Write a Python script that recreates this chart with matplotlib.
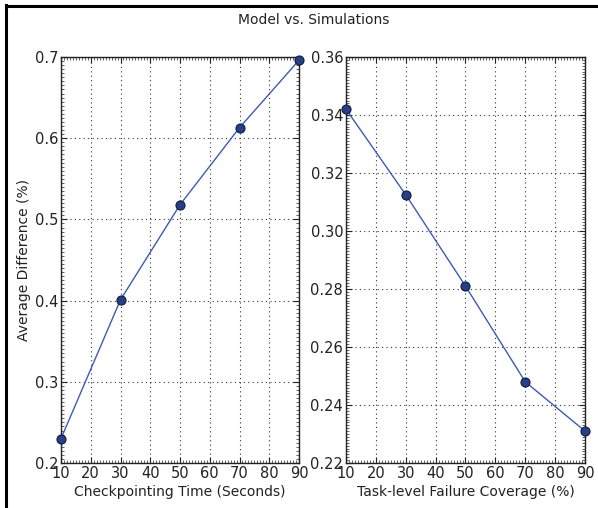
import numpy as np
import matplotlib
matplotlib.use("Agg")
import matplotlib.pyplot as plt
from matplotlib.ticker import MultipleLocator
from matplotlib.lines import Line2D

plt.rcParams['font.family'] = ['DejaVu Sans']

# data
ckpt_time = [10, 30, 50, 70, 90]
ckpt_diff = [0.230, 0.401, 0.518, 0.613, 0.696]

coverage = [10, 30, 50, 70, 90]
coverage_diff = [0.342, 0.3125, 0.281, 0.248, 0.231]

line_col = '#3a5cb4'
marker_col = '#25408a'


def style_ax(ax, ylo, yhi, ystep, yminor):
    ax.set_xlim(10, 90)
    ax.set_ylim(ylo, yhi)
    ax.xaxis.set_major_locator(MultipleLocator(10))
    ax.xaxis.set_minor_locator(MultipleLocator(1))
    ax.yaxis.set_major_locator(MultipleLocator(ystep))
    ax.yaxis.set_minor_locator(MultipleLocator(yminor))
    ax.tick_params(which='both', direction='in', top=True, right=True,
                   labelsize=10.5, colors='#222222')
    ax.tick_params(which='major', length=4, width=0.8, pad=2)
    ax.tick_params(which='minor', length=2, width=0.5)
    ax.grid(True, which='major', linestyle=(0, (1, 3)), color='#333333', linewidth=0.8)
    for s in ax.spines.values():
        s.set_linewidth(1.0)
        s.set_color('#222222')


fig = plt.figure(figsize=(5.98, 5.08), dpi=100)
W, H = 598.0, 508.0

ax1 = fig.add_axes([61 / W, 1 - 463 / H, 238 / W, 406 / H])
ax2 = fig.add_axes([346 / W, 1 - 463 / H, 239 / W, 406 / H])

ax1.plot(ckpt_time, ckpt_diff, '-o', color=line_col, lw=1.0,
         markersize=6.5, markerfacecolor=marker_col, markeredgecolor='#0f1a3a',
         markeredgewidth=0.8, clip_on=False, zorder=3)
style_ax(ax1, 0.2, 0.7, 0.1, 0.005)
ax1.set_xlabel('Checkpointing Time (Seconds)', fontsize=10, color='#222222', labelpad=3)
ax1.set_ylabel('Average Difference (%)', fontsize=10, color='#222222', labelpad=3)

ax2.plot(coverage, coverage_diff, '-o', color=line_col, lw=1.0,
         markersize=6.5, markerfacecolor=marker_col, markeredgecolor='#0f1a3a',
         markeredgewidth=0.8, clip_on=False, zorder=3)
style_ax(ax2, 0.22, 0.36, 0.02, 0.001)
ax2.set_xlabel('Task-level Failure Coverage (%)', fontsize=10, color='#222222', labelpad=3)

fig.suptitle('Model vs. Simulations', x=314 / W, y=1 - 20 / H, va='center',
             fontsize=10, color='#222222')

# frame edges visible in the reference crop
fig.add_artist(Line2D([6 / W, 6 / W], [0, 1 - 5 / H], color='black', lw=2.2))
fig.add_artist(Line2D([6 / W, 1], [1 - 6 / H, 1 - 6 / H], color='black', lw=2.2))

fig.savefig('out.png', dpi=100)
